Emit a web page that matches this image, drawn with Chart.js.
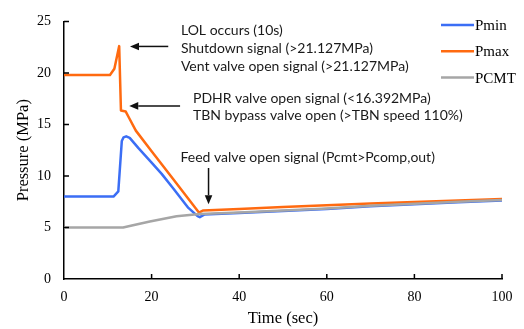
<!DOCTYPE html>
<html>
<head>
<meta charset="utf-8">
<script src="https://cdn.jsdelivr.net/npm/chart.js@4.4.0/dist/chart.umd.min.js"></script>
<style>
html,body{margin:0;padding:0;background:#fff;}
#wrap{width:524px;height:329px;position:relative;}
</style>
</head>
<body>
<div id="wrap"><canvas id="c" width="524" height="329"></canvas></div>
<script>
// ---- data ----
const xTicks = [0, 20, 40, 60, 80, 100];
const yTicks = [0, 5, 10, 15, 20, 25];

const pminTime = [0, 11.3, 12.4, 13.2, 13.6, 14.2, 15.0, 17.0, 20, 22.3, 25, 28.4, 30.5, 31.0, 32, 40, 50, 60, 70, 80, 90, 100];
const pminVal  = [8.0, 8.0, 8.5, 13.4, 13.75, 13.85, 13.7, 12.7, 11.3, 10.2, 8.75, 6.9, 6.1, 6.0, 6.25, 6.4, 6.6, 6.8, 7.05, 7.25, 7.45, 7.62];

const pmaxTime = [0, 10.5, 11.5, 12.6, 13.0, 14.1, 14.9, 16.4, 20, 25, 30.8, 31.8, 40, 50, 60, 70, 80, 90, 100];
const pmaxVal  = [19.8, 19.8, 20.4, 22.6, 16.35, 16.25, 15.6, 14.4, 12.4, 9.65, 6.45, 6.65, 6.8, 6.98, 7.15, 7.33, 7.48, 7.62, 7.76];

const pcmtTime = [0, 13.5, 15.5, 19.6, 25.7, 31, 40, 50, 60, 70, 80, 90, 100];
const pcmtVal  = [5.0, 5.0, 5.2, 5.58, 6.09, 6.3, 6.45, 6.65, 6.85, 7.1, 7.3, 7.5, 7.66];

const seriesNames = ['Pmin', 'Pmax', 'PCMT'];
const seriesColors = ['#3b6ef5', '#ff6a10', '#a6a6a6'];

// annotation texts (anchored in data coordinates)
const noteTexts = [
  'LOL occurs (10s)',
  'Shutdown signal (>21.127MPa)',
  'Vent valve open signal (>21.127MPa)',
  'PDHR valve open signal (<16.392MPa)',
  'TBN bypass valve open (>TBN speed 110%)',
  'Feed valve open signal (Pcmt>Pcomp,out)'
];
const noteX = [26.7, 26.7, 26.7, 29.45, 29.45, 26.6];
const noteY = [24.13, 22.34, 20.64, 17.53, 15.87, 11.76];
// arrows: from (x0,y0) to head (x1,y1)
const arrows = [
  [23.8, 22.57, 15.07, 22.57],
  [26.5, 16.8, 14.9, 16.8],
  [33.0, 10.77, 33.0, 7.26]
];

function pts(t, v) { return t.map((x, i) => ({x: x, y: v[i]})); }

const serif = "'Liberation Serif', 'Times New Roman', serif";
const sans = "Lato, 'Open Sans', sans-serif";

const decor = {
  id: 'decor',
  afterDraw(chart) {
    const ctx = chart.ctx;
    const xs = chart.scales.x, ys = chart.scales.y;
    const a = chart.chartArea;
    ctx.save();
    // inward ticks
    ctx.strokeStyle = '#000';
    ctx.lineWidth = 1.5;
    ctx.beginPath();
    xTicks.forEach(v => {
      if (v === 0) return;
      const px = xs.getPixelForValue(v);
      ctx.moveTo(px, a.bottom); ctx.lineTo(px, a.bottom - 5);
    });
    yTicks.forEach(v => {
      if (v === 0) return;
      const py = ys.getPixelForValue(v);
      ctx.moveTo(a.left, py); ctx.lineTo(a.left + 5, py);
    });
    ctx.stroke();

    // notes
    ctx.fillStyle = '#1a1a1a';
    ctx.font = "14px " + sans;
    ctx.textAlign = 'left';
    ctx.textBaseline = 'middle';
    noteTexts.forEach((t, i) => {
      ctx.fillText(t, xs.getPixelForValue(noteX[i]), ys.getPixelForValue(noteY[i]));
    });

    // arrows
    arrows.forEach(ar => {
      const x0 = xs.getPixelForValue(ar[0]), y0 = ys.getPixelForValue(ar[1]);
      const x1 = xs.getPixelForValue(ar[2]), y1 = ys.getPixelForValue(ar[3]);
      const ang = Math.atan2(y1 - y0, x1 - x0);
      const hl = 9, hw = 3.8;
      const bx = x1 - hl * Math.cos(ang), by = y1 - hl * Math.sin(ang);
      ctx.strokeStyle = '#111';
      ctx.lineWidth = 1.5;
      ctx.beginPath();
      ctx.moveTo(x0, y0); ctx.lineTo(bx, by);
      ctx.stroke();
      ctx.fillStyle = '#111';
      ctx.beginPath();
      ctx.moveTo(x1, y1);
      ctx.lineTo(bx + hw * Math.sin(ang), by - hw * Math.cos(ang));
      ctx.lineTo(bx - hw * Math.sin(ang), by + hw * Math.cos(ang));
      ctx.closePath();
      ctx.fill();
    });

    // legend
    ctx.font = "15px " + serif;
    ctx.fillStyle = '#000';
    seriesNames.forEach((n, i) => {
      const y = 25 + i * 26.3;
      ctx.strokeStyle = seriesColors[i];
      ctx.lineWidth = 2.5;
      ctx.beginPath();
      ctx.moveTo(441, y); ctx.lineTo(474, y);
      ctx.stroke();
      ctx.fillText(n, 475, y + 1);
    });
    ctx.restore();
  }
};

const datasets = [
  {label: seriesNames[2], data: pts(pcmtTime, pcmtVal), borderColor: seriesColors[2], order: 0},
  {label: seriesNames[1], data: pts(pmaxTime, pmaxVal), borderColor: seriesColors[1], order: 1},
  {label: seriesNames[0], data: pts(pminTime, pminVal), borderColor: seriesColors[0], order: 2}
].map(d => Object.assign(d, {borderWidth: 2.5, borderJoinStyle: 'round', borderCapStyle: 'round', pointRadius: 0, tension: 0, fill: false}));

new Chart(document.getElementById('c'), {
  type: 'line',
  data: {datasets: datasets},
  options: {
    responsive: false,
    animation: false,
    events: [],
    layout: {padding: {top: 19, right: 22, left: 0, bottom: 0}},
    plugins: {legend: {display: false}, tooltip: {enabled: false}},
    scales: {
      x: {
        type: 'linear', min: 0, max: 100,
        afterBuildTicks: s => { s.ticks = xTicks.map(v => ({value: v})); },
        afterFit: s => { s.height = 50; },
        grid: {display: false, drawTicks: false},
        border: {display: true, color: '#000', width: 1.5},
        ticks: {color: '#000', font: {family: serif, size: 14}, padding: 10, maxRotation: 0},
        title: {display: true, text: 'Time (sec)', color: '#000', font: {family: serif, size: 16.5}, padding: {top: 0, bottom: 0}}
      },
      y: {
        type: 'linear', min: 0, max: 25,
        afterBuildTicks: s => { s.ticks = yTicks.map(v => ({value: v})); },
        afterFit: s => { s.width = 64; },
        grid: {display: false, drawTicks: false},
        border: {display: true, color: '#000', width: 1.5},
        ticks: {color: '#000', font: {family: serif, size: 14}, padding: 13},
        title: {display: true, text: 'Pressure (MPa)', color: '#000', font: {family: serif, size: 16.5}, padding: {top: 14, bottom: 0}}
      }
    }
  },
  plugins: [decor]
});
</script>
</body>
</html>
